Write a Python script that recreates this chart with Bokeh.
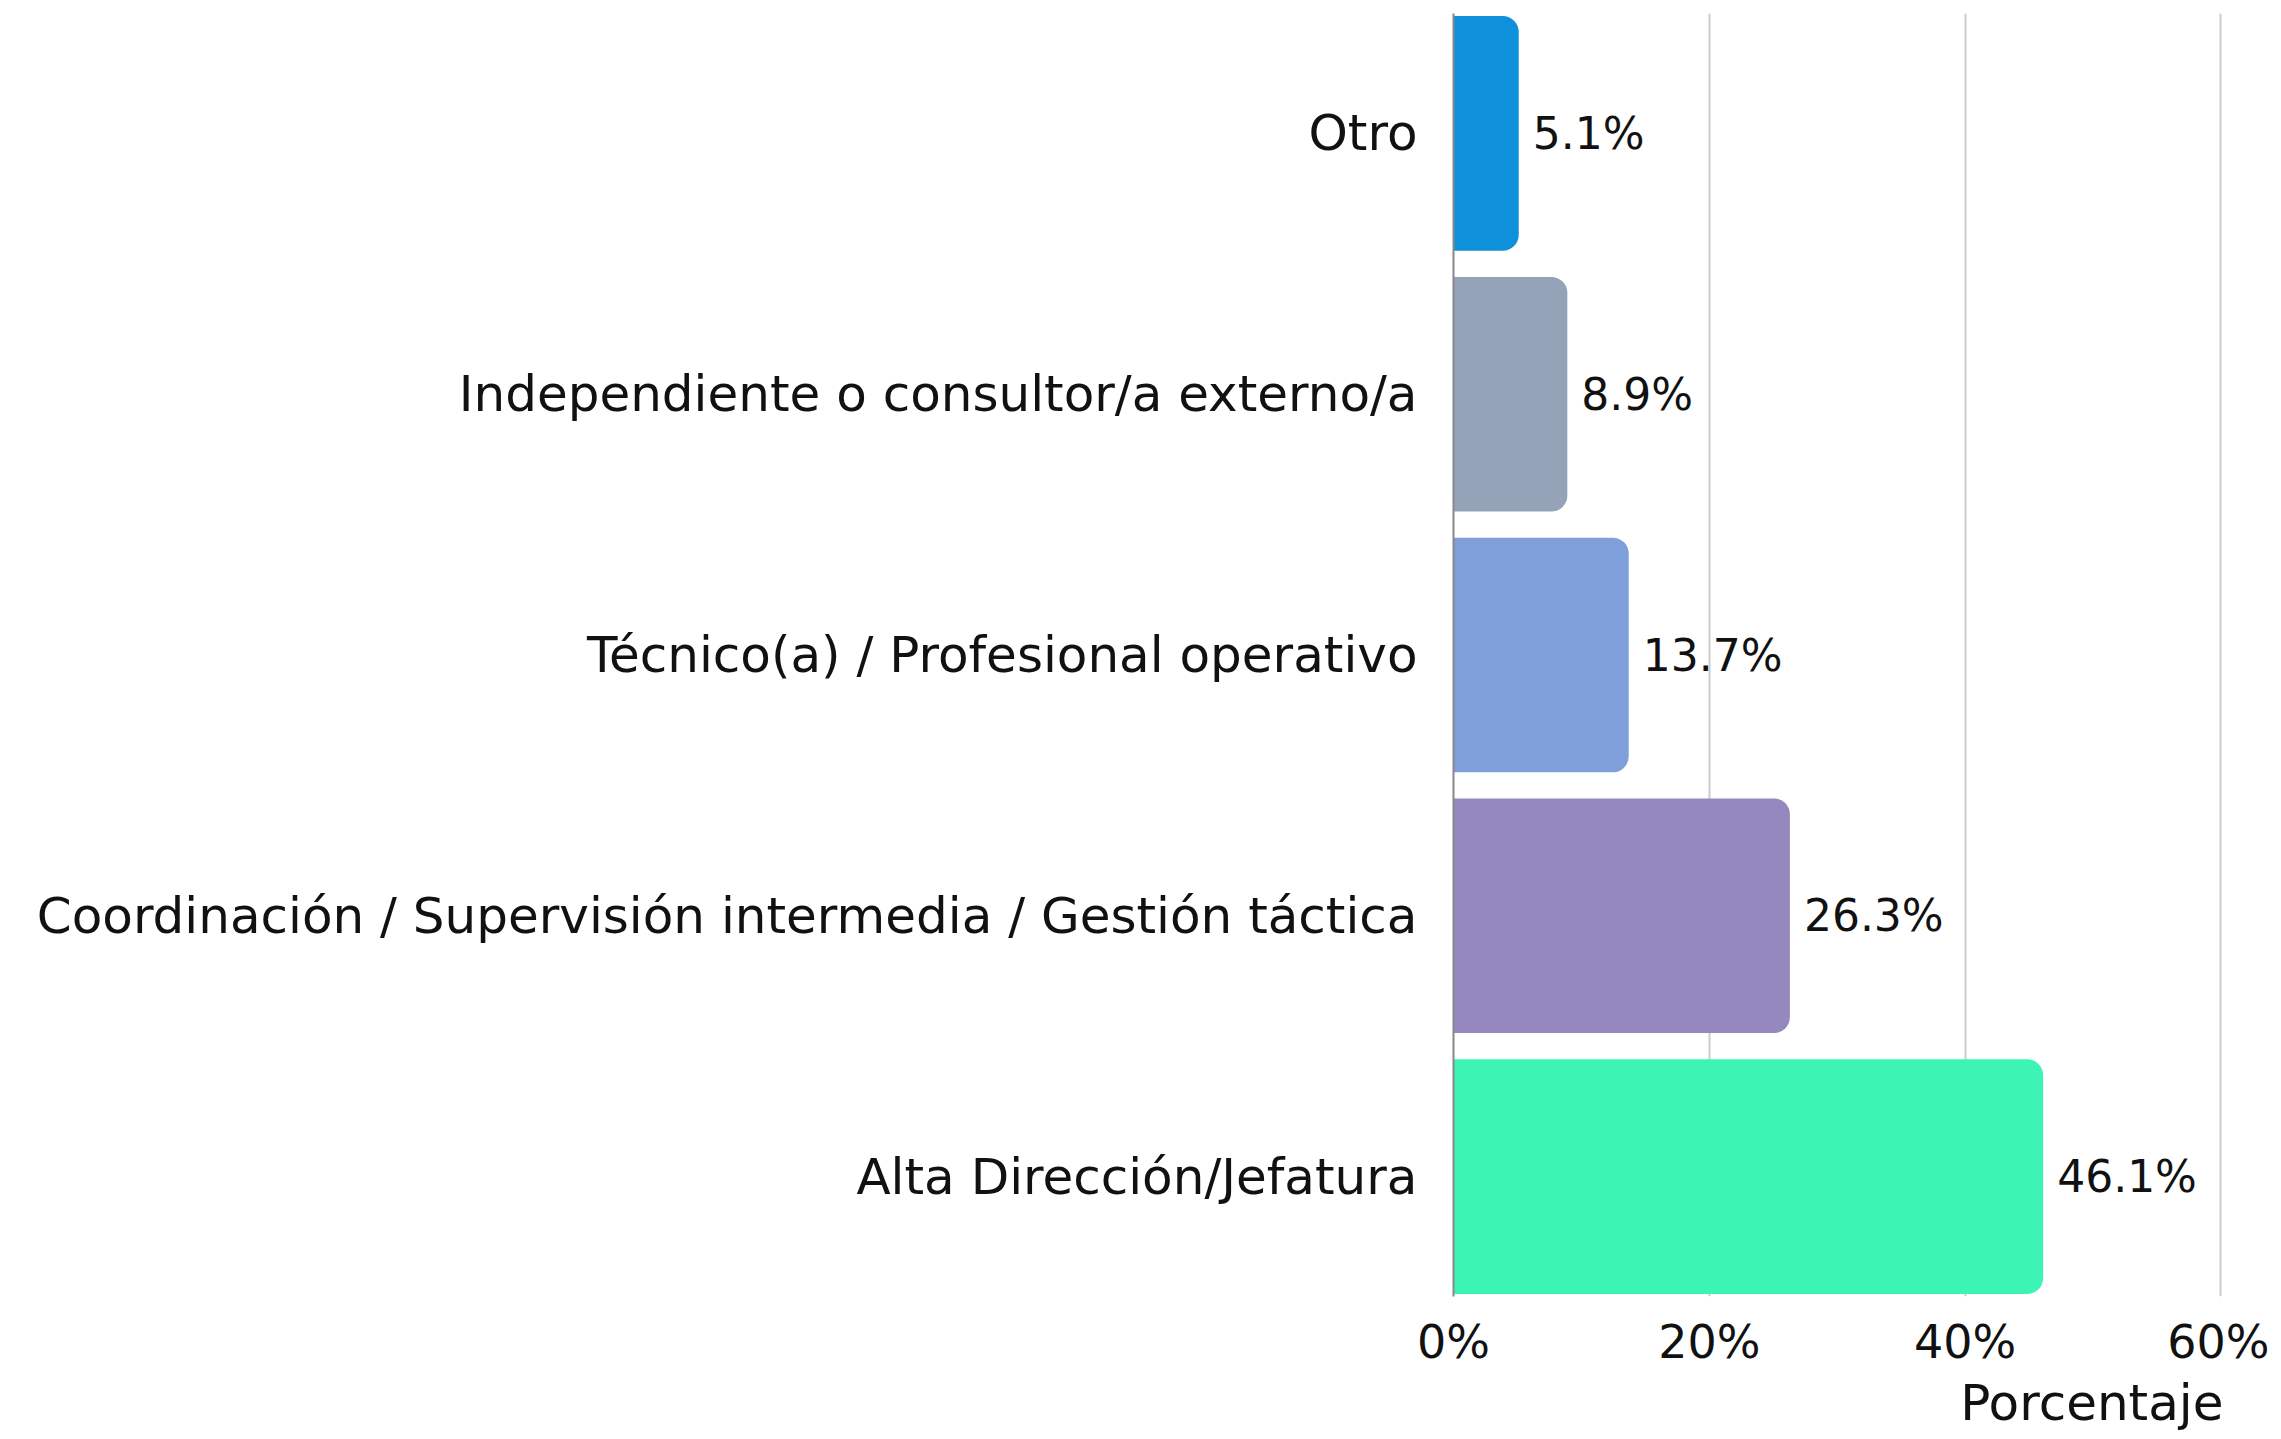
from bokeh.plotting import figure
from bokeh.models import ColumnDataSource, FixedTicker, Title, Range1d
from bokeh.embed import file_html
from bokeh.resources import INLINE
from bokeh.core.properties import value

# ---- data ----
categories = [
    "Alta Dirección/Jefatura",
    "Coordinación / Supervisión intermedia / Gestión táctica",
    "Técnico(a) / Profesional operativo",
    "Independiente o consultor/a externo/a",
    "Otro",
]
percentages = [46.1, 26.3, 13.7, 8.9, 5.1]
bar_colors = ["#3CF5B4", "#9488BE", "#7F9FDB", "#94A3B8", "#0E90DB"]
x_ticks = [0, 20, 40, 60]
x_tick_labels = ["0%", "20%", "40%", "60%"]
x_axis_title = "Porcentaje"

FONT = "DejaVu Sans"

positions = list(range(len(categories)))
source = ColumnDataSource(dict(
    y=positions,
    x=percentages,
    color=bar_colors,
    label=[f"{v:.1f}%" for v in percentages],
))

p = figure(
    width=2269, height=1431,
    x_range=Range1d(0, 60.2),
    y_range=Range1d(-0.46, len(categories) - 1 + 0.46),
    output_backend="svg", toolbar_location=None,
    min_border_left=1453, min_border_right=46,
    min_border_top=13, min_border_bottom=135,
)

p.hbar(y="y", left=0, right="x", height=0.9, color="color", source=source,
       line_color=None, border_radius=(0, 16, 16, 0))

p.text(x="x", y="y", text="label", source=source, x_offset=14,
       text_align="left", text_baseline="middle",
       text_font=value(FONT), text_font_size="44px", text_color="#111111")

# y axis
p.yaxis.ticker = FixedTicker(ticks=positions)
p.yaxis.major_label_overrides = {i: c for i, c in zip(positions, categories)}
p.yaxis.major_tick_line_color = None
p.yaxis.minor_tick_line_color = None
p.yaxis.axis_line_color = "#888888"
p.yaxis.axis_line_width = 2
p.yaxis.major_label_standoff = 30
p.yaxis.major_label_text_font = FONT
p.yaxis.major_label_text_font_size = "50px"
p.yaxis.major_label_text_color = "#111111"

# x axis
p.xaxis.ticker = FixedTicker(ticks=x_ticks)
p.xaxis.major_label_overrides = {t: l for t, l in zip(x_ticks, x_tick_labels)}
p.xaxis.axis_line_color = None
p.xaxis.major_tick_line_color = None
p.xaxis.minor_tick_line_color = None
p.xaxis.major_label_standoff = 12
p.xaxis.major_label_text_font = FONT
p.xaxis.major_label_text_font_size = "46px"
p.xaxis.major_label_text_color = "#111111"

p.add_layout(Title(text=x_axis_title, align="right", text_font=FONT,
                   text_font_size="50px", text_font_style="normal",
                   text_color="#111111", offset=0, standoff=0), "below")

p.xgrid.grid_line_color = "#cccccc"
p.xgrid.grid_line_width = 2
p.ygrid.grid_line_color = None
p.outline_line_color = None
p.background_fill_color = "white"
p.border_fill_color = "white"

open("out.html", "w").write(file_html(p, INLINE))
